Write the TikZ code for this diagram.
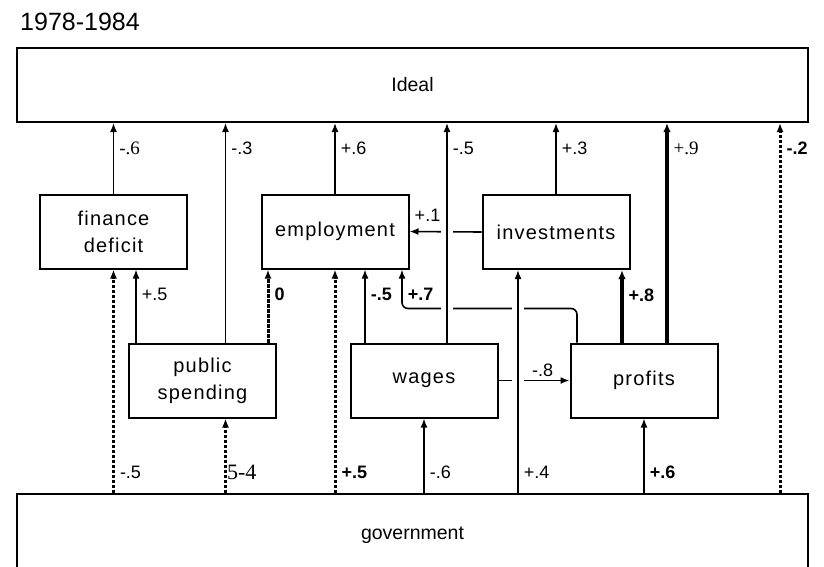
\documentclass[tikz,border=0pt]{standalone}
\usepackage{fontspec}
\setmainfont{Liberation Sans}
\newfontfamily\boxfont[LetterSpace=6]{Liberation Sans}
\newfontfamily\serifnum{Liberation Serif}
\usetikzlibrary{arrows.meta, positioning, calc}
\tikzset{
    box/.style={draw, line width=2pt, minimum width=147pt, minimum height=74pt, inner sep=2pt, align=center, font=\boxfont\fontsize{20}{27}\selectfont},
    bigbox/.style={draw, line width=2pt, minimum width=791pt, font=\fontsize{19.5}{24}\selectfont},
    link/.style={-{Latex[length=9pt,width=7pt]}, line width=1.6pt},
    heavylink/.style={-{Latex[length=9pt,width=7.5pt]}, line width=3.2pt},
    dashlink/.style={-{Latex[length=9pt,width=7pt]}, line width=3pt, dash pattern=on 3.5pt off 1.5pt},
    bridge/.style={preaction={draw=white, line width=12pt, arrows=-, shorten <=8pt, shorten >=11pt}},
    lbltop/.style={pos=1, anchor=west, inner sep=2pt, xshift=3pt, yshift=-25pt, font=\fontsize{18}{20}\selectfont},
    lblbot/.style={pos=0, anchor=west, inner sep=2pt, xshift=3pt, yshift=21pt, font=\fontsize{18}{20}\selectfont},
    numserif/.style={font=\serifnum\fontsize{19}{22}\selectfont},
    numbold/.style={font=\bfseries\fontsize{18}{20}\selectfont}
}

\begin{document}
\begin{tikzpicture}[x=1pt, y=-1pt]
    \clip (0,0) rectangle (824,566);
    \node[anchor=west, inner sep=0pt, font=\fontsize{25}{30}\selectfont] (title) at (20,22) {1978-1984};

    \node[bigbox, minimum height=74pt] (id) at (412.5,85) {Ideal};
    \node[bigbox, minimum height=82pt] (gov) at (412.5,535) {government};

    \node[box] (fd) at (113.5,231.5) {finance\\deficit};
    \node[box] (em) at (335,231.5) {employment};
    \node[box] (iv) at (556,232) {investments};
    \node[box] (ps) at (202.5,380.5) {public\\spending};
    \node[box] (wg) at (424,380.5) {wages};
    \node[box] (pr) at (644,380.5) {profits};

    % attachment points
    \coordinate (ps1) at ($(ps.north)+(23,0)$);
    \coordinate (ps2) at ($(ps.north)+(-66.5,0)$);
    \coordinate (ps3) at ($(ps.north)+(65.5,0)$);
    \coordinate (ps4) at ($(ps.south)+(23,0)$);
    \coordinate (wg1) at ($(wg.north)+(23,0)$);
    \coordinate (wg2) at ($(wg.north)+(-59,0)$);
    \coordinate (pr1) at ($(pr.north)+(-67,0)$);
    \coordinate (pr2) at ($(pr.north)+(23,0)$);
    \coordinate (pr3) at ($(pr.north)+(-22,0)$);
    \coordinate (em4) at ($(em.south)+(67,0)$);
    \coordinate (iv1) at ($(iv.south)+(-38,0)$);
    \coordinate (g7) at ($(gov.north east)+(-29,0)$);

    % Side links
    \draw[link] (iv.west) -- node[pos=0.75, above, inner sep=9pt, font=\fontsize{18}{20}\selectfont] {+.1} (em.east);
    \draw[link] (wg.east) -- node[pos=0.62, above, inner sep=3pt, font=\fontsize{18}{20}\selectfont] {-.8} (pr.west);
    \draw[link, rounded corners=6pt] (pr1) |- ($(em4)+(0,39)$) -- (em4) node[lbltop, numbold] {+.7};

    % Into Ideal
    \draw[link] (fd.north) -- (fd.north |- id.south) node[lbltop, numserif] {-.6};
    \draw[link] (ps1) -- (ps1 |- id.south) node[lbltop] {-.3};
    \draw[link] (em.north) -- (em.north |- id.south) node[lbltop] {+.6};
    \draw[link, bridge] (wg1) -- (wg1 |- id.south) node[lbltop] {-.5};
    \draw[link] (iv.north) -- (iv.north |- id.south) node[lbltop] {+.3};
    \draw[heavylink] (pr2) -- (pr2 |- id.south) node[lbltop, numserif] {+.9};
    \draw[dashlink] (g7) -- (g7 |- id.south) node[lbltop, numbold] {-.2};

    % Into the middle row
    \draw[dashlink] (fd.south |- gov.north) -- (fd.south) node[lblbot] {-.5};
    \draw[link] (ps2) -- (ps2 |- fd.south) node[lbltop] {+.5};
    \draw[dashlink] (ps3) -- (ps3 |- em.south) node[lbltop, numbold] {0};
    \draw[dashlink] (em.south |- gov.north) -- (em.south) node[lblbot, numbold] {+.5};
    \draw[link] (wg2) -- (wg2 |- em.south) node[lbltop, numbold] {-.5};
    \draw[link, bridge] (iv1 |- gov.north) -- (iv1) node[lblbot] {+.4};
    \draw[heavylink] (pr3) -- (pr3 |- iv.south) node[lbltop, numbold] {+.8};

    % From government
    \draw[dashlink] (ps4 |- gov.north) -- (ps4) node[lblbot, font=\serifnum\fontsize{22}{24}\selectfont, xshift=-5pt] {5-4};
    \draw[link] (wg.south |- gov.north) -- (wg.south) node[lblbot] {-.6};
    \draw[link] (pr.south |- gov.north) -- (pr.south) node[lblbot, numbold] {+.6};
\end{tikzpicture}
\end{document}
